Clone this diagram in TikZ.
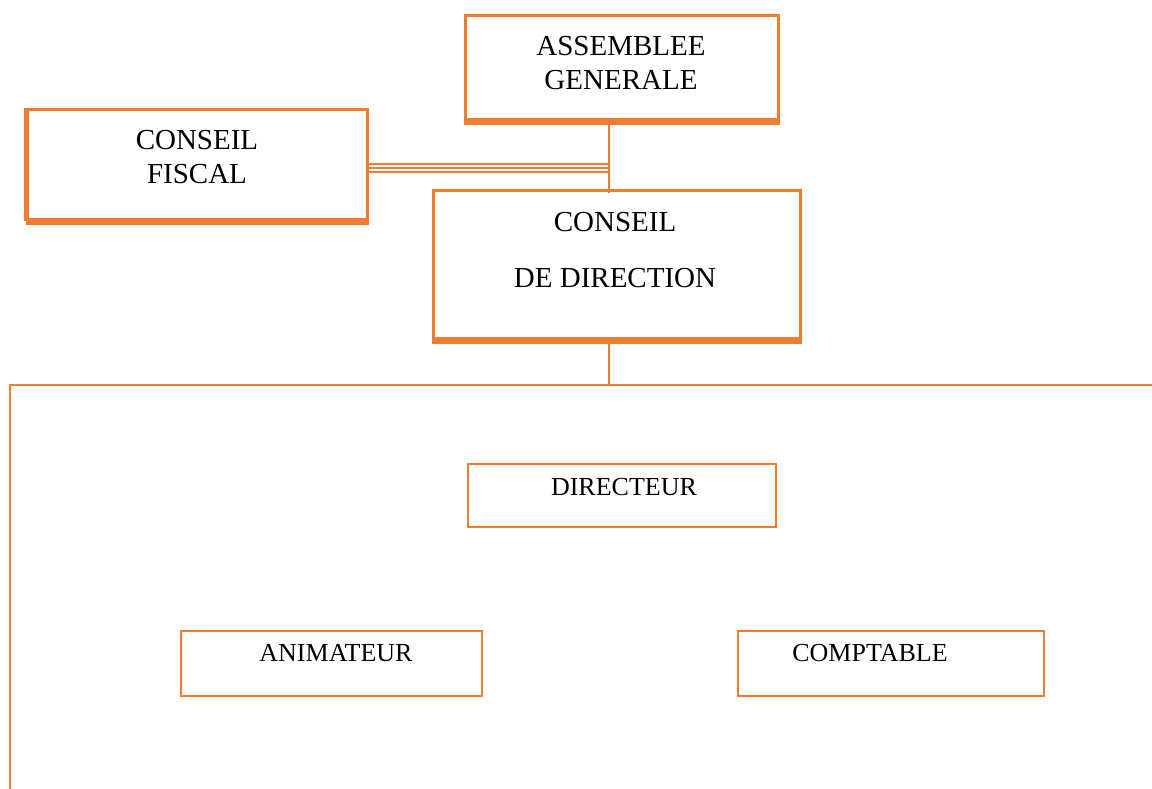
\documentclass[tikz,border=0pt]{standalone}
\usepackage{fontspec}
\setmainfont{Liberation Serif}
\definecolor{org}{HTML}{ED7D31}
\begin{document}
\begin{tikzpicture}[x=1pt,y=-1pt,
  bigbox/.style={draw=org, line width=3pt, inner sep=0pt, anchor=north west},
  smallbox/.style={draw=org, line width=2pt, inner sep=0pt, anchor=north west},
  lbl/.style={font=\fontsize{29}{34}\selectfont, inner sep=0pt, align=center},
  slbl/.style={font=\fontsize{26}{30}\selectfont, inner sep=0pt},
  conn/.style={draw=org, line width=2pt},
  thin3/.style={draw=org, line width=1.6pt},
  heavy/.style={draw=org, line width=6pt}]
\useasboundingbox (0,0) rectangle (1152,789);
% boxes
\node[bigbox, minimum width=313pt, minimum height=104pt] (AG) at (464,14) {};
\node[bigbox, minimum width=340pt, minimum height=110pt] (CF) at (26,108) {};
\node[bigbox, minimum width=367pt, minimum height=148pt] (CDD) at (432,189) {};
\node[smallbox, minimum width=308pt, minimum height=63pt] (DIR) at (467,463) {};
\node[smallbox, minimum width=301pt, minimum height=65pt] (ANI) at (180,630) {};
\node[smallbox, minimum width=306pt, minimum height=65pt] (CPT) at (737,630) {};
% heavier bottom / left edges
\draw[heavy] ([yshift=-1pt]AG.south west) -- ([yshift=-1pt]AG.south east);
\draw[heavy] ([yshift=-1pt]CF.south west) -- ([yshift=-1pt]CF.south east);
\draw[heavy] ([yshift=-1pt]CDD.south west) -- ([yshift=-1pt]CDD.south east);
\draw[draw=org, line width=4.5pt] (CF.north west) -- (CF.south west);
% texts
\node[lbl] (tAG) at (621,63) {ASSEMBLEE\\GENERALE};
\node[lbl] (tCF) at (197,157) {CONSEIL\\FISCAL};
\node[lbl] (tCDD1) at (615,222) {CONSEIL};
\node[lbl] (tCDD2) at (615,278) {DE DIRECTION};
\node[slbl] (tDIR) at (624,487) {DIRECTEUR};
\node[slbl] (tANI) at (336,653) {ANIMATEUR};
\node[slbl] (tCPT) at (870,653) {COMPTABLE};
% connectors
\coordinate (j1) at (609,193);
\coordinate (j2) at (609,385);
\coordinate (hl) at (10,385);
\coordinate (hr) at (1152,385);
\coordinate (bl) at (10,789);
\draw[conn] (AG.south -| j1) -- (j1);
\foreach \yy in {164,168,172}{
  \coordinate (ta) at (0,\yy);
  \draw[thin3] (CF.east |- ta) -- (j1 |- ta);
}
\draw[conn] (CDD.south -| j2) -- (j2);
\draw[conn] (hr) -- (hl) -- (bl);
\end{tikzpicture}
\end{document}
